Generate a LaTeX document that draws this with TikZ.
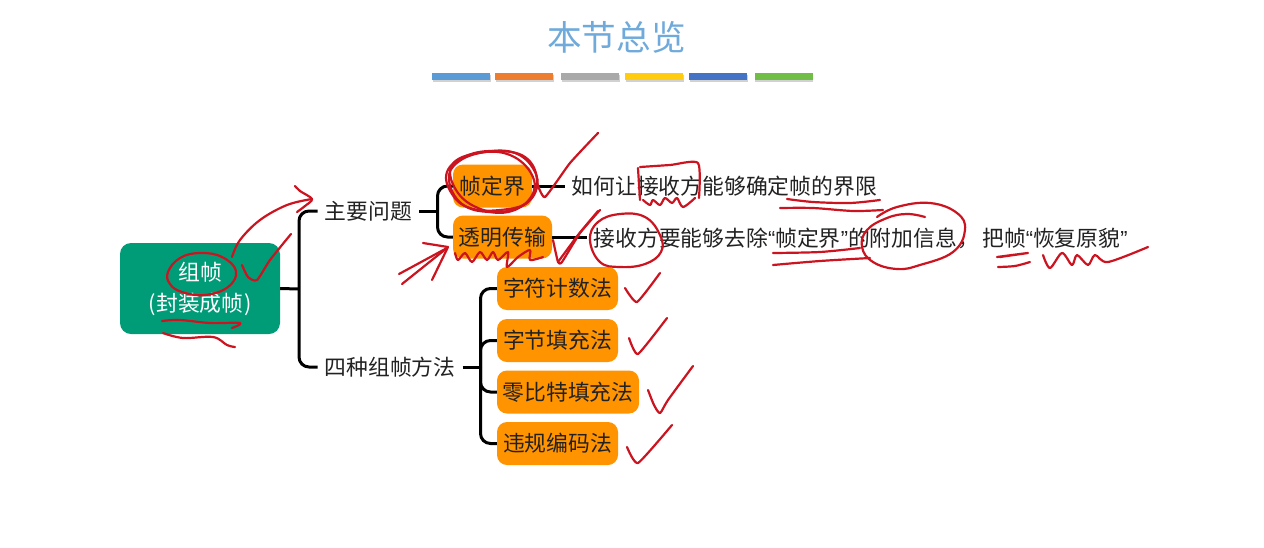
\documentclass[tikz,border=0pt]{standalone}
\usepackage{fontspec}
\setmainfont{Noto Sans CJK SC}
\newfontfamily\qf{Liberation Sans}
\newcommand{\oq}{{\qf “}}
\newcommand{\cq}{{\qf ”}}
\newcommand{\lowered}[2][1.5]{\raisebox{-#1pt}{#2}}
\definecolor{inkred}{HTML}{CC1420}
\definecolor{boxorange}{HTML}{FF9400}
\definecolor{rootgreen}{HTML}{009C78}
\definecolor{titleblue}{HTML}{6FAADB}
\definecolor{txt}{HTML}{222222}
\tikzset{
  bodyfont/.style={font=\fontsize{21.8}{31}\selectfont},
  rootbox/.style={fill=rootgreen,text=white,rounded corners=11,minimum width=160,minimum height=91,inner sep=0,align=center,bodyfont},
  leafbox/.style={fill=boxorange,text=txt,rounded corners=10,minimum height=43,inner sep=0,bodyfont},
  plain/.style={text=txt,inner xsep=7,inner ysep=0,anchor=west,bodyfont},
  conn/.style={draw=black,line width=3,rounded corners=10},
  ink/.style={draw=inkred,line width=2.2,line cap=round,line join=round},
  bar/.style={minimum width=58,minimum height=6.5,inner sep=0,anchor=north west},
}
\begin{document}
\begin{tikzpicture}[x=1pt,y=-1pt]
\useasboundingbox (0,0) rectangle (1264,547);
\fill[white] (0,0) rectangle (1264,547);
% title
\node[text=titleblue,font=\fontsize{34.6}{40}\selectfont,inner sep=0] (title) at (616.5,37) {本节总览};
\foreach \n/\xx/\cc in {a/432/5B9BD5,b/495/ED7D31,c/561/A9A9A9,d/625/FFCC10,e/689/4472C4,f/754.5/70BE47}{
  \fill[black!18] (\xx+.5,74.5) rectangle ++(58,7);
  \definecolor{barc}{HTML}{\cc}
  \node[bar,fill=barc] (bar\n) at (\xx,73) {};
}
% nodes
\node[rootbox] (root) at (200,288.5) {\lowered[2.5]{组帧}\\\lowered[2.5]{(\kern1pt封装成帧\kern1pt)}};
\node[plain] (q1) at (317.5,211) {\lowered{主要问题}};
\node[plain] (q2) at (317.5,367) {\lowered{四种组帧方法}};
\node[leafbox,minimum width=79] (p1) at (492.5,186) {帧定界};
\node[leafbox,minimum width=99] (p2) at (502.5,237) {\lowered{透明传输}};
\node[leafbox,minimum width=121] (m1) at (557.5,288.5) {\lowered{字符计数法}};
\node[leafbox,minimum width=121] (m2) at (557.5,340.5) {\lowered{字节填充法}};
\node[leafbox,minimum width=142] (m3) at (568,392) {\lowered{零比特填充法}};
\node[leafbox,minimum width=121] (m4) at (557.5,443.5) {\lowered{违规编码法}};
\node[plain] (d1) at (564.5,186) {如何让接收方能够确定帧的界限};
\node[plain] (d2) at (586.5,238) {接收方要能够去除\oq 帧定界\cq 的附加信息，\kern3.5pt 把帧\oq 恢复原貌\cq};
% connectors
\coordinate (bus1) at (299,289);
\coordinate (bus2) at (437.5,211);
\coordinate (bus3) at (480.5,367);
\draw[conn] (root.east) -- (bus1);
\draw[conn] (q1.west) -| (bus1) |- (q2.west);
\draw[conn] (q1.east) -- (bus2);
\draw[conn] (p1.west) -| (bus2) |- (p2.west);
\draw[conn] (q2.east) -- (bus3);
\draw[conn] (m1.west) -| (bus3) |- (m4.west);
\draw[conn] (bus3) |- (m2.west);
\draw[conn] (bus3) |- (m3.west);
\draw[conn] (p1.east) -- (p1.east -| d1.west);
\draw[conn] (p2.east) -- (p2.east -| d2.west);
% handwriting
\draw[ink] plot[smooth,tension=.6] coordinates {(232,257)(240,240)(260,220)(287,205)(312,199)};
\draw[ink] plot[smooth,tension=.5] coordinates {(295,186)(300,191)(312,199)(305,206)(297,212)};
\draw[ink] plot[smooth cycle,tension=.7] coordinates {(168,272)(180,258)(200,253)(222,257)(236,271)(228,287)(205,295)(182,292)(170,284)};
\draw[ink] plot[smooth,tension=.4] coordinates {(242,265)(248,277)(257,280)(270,260)(291,234)};
\draw[ink] plot[smooth,tension=.6] coordinates {(162,321)(180,320)(210,323)(240,323)(232,328)};
\draw[ink] plot[smooth,tension=.6] coordinates {(163,333)(183,338)(213,337)(227,345)(235,347)};
\draw[ink] (399,274) -- (447,248);
\draw[ink] (402,284) -- (447,248);
\draw[ink] (423,243) -- (448,247) -- (432,280);
\draw[ink] plot[smooth,tension=.5] coordinates {(455,253)(458,260)(465,253)(472,262)(480,252)(487,260)(493,252)(498,260)(508,252)(507,267)(518,257)(530,250)(530,260)(543,257)};
\draw[ink] plot[smooth cycle,tension=.7] coordinates {(449,180)(458,162)(485,152)(515,153)(534,170)(536,190)(520,207)(490,212)(462,204)};
\draw[ink] plot[smooth cycle,tension=.7] coordinates {(447,172)(466,156)(495,151)(525,157)(537,180)(528,202)(500,210)(470,208)(452,194)};
\draw[ink] plot[smooth cycle,tension=.7] coordinates {(452,165)(478,153)(510,155)(532,175)(531,197)(508,212)(478,208)(456,190)};
\draw[ink] plot[smooth,tension=.3] coordinates {(537,183)(545,197)(570,163)(598,133)};
\draw[ink] plot[smooth,tension=.3] coordinates {(553,240)(558,262)(562,262)(580,233)(600,210)};
\draw[ink] plot[smooth,tension=.3] coordinates {(558,262)(578,235)(598,211)};
\draw[ink] plot[smooth cycle,tension=.7] coordinates {(590,240)(598,222)(620,214)(645,217)(660,235)(661,252)(645,264)(620,267)(600,262)};
\draw[ink] (638,168) -- (640,200);
\draw[ink] plot[smooth,tension=.4] coordinates {(640,167)(670,165)(698,163)(699,198)};
\draw[ink] plot[smooth,tension=.5] coordinates {(643,200)(650,205)(653,200)(660,205)(665,198)(672,203)(677,198)(683,207)(695,198)};
\draw[ink] plot[smooth,tension=.5] coordinates {(787,199)(813,202)(850,203)(880,200)};
\draw[ink] plot[smooth,tension=.5] coordinates {(780,208)(813,208)(853,211)(883,210)};
\draw[ink] plot[smooth,tension=.7] coordinates {(877,217)(897,207)(930,203)(957,213)(965,230)(953,252)(920,265)(897,269)(873,262)(862,247)(867,230)(887,218)(907,214)(925,217)};
\draw[ink] plot[smooth,tension=.5] coordinates {(773,253)(820,252)(860,248)};
\draw[ink] plot[smooth,tension=.5] coordinates {(773,265)(820,261)(870,258)};
\draw[ink] plot[smooth,tension=.4] coordinates {(997,257)(1012,255)(1028,253)(1000,257)};
\draw[ink] plot[smooth,tension=.5] coordinates {(998,267)(1015,266)(1030,262)};
\draw[ink] plot[smooth,tension=.5] coordinates {(1043,255)(1050,268)(1062,253)(1072,265)(1077,255)(1088,265)(1095,255)(1108,262)(1148,247)};
\draw[ink] plot[smooth,tension=.3] coordinates {(625,288)(637,302)(660,273)};
\draw[ink] plot[smooth,tension=.3] coordinates {(629,338)(638,354)(667,318)};
\draw[ink] plot[smooth,tension=.4] coordinates {(648,390)(654,405)(660,413)(668,400)(693,366)};
\draw[ink] plot[smooth,tension=.3] coordinates {(627,447)(638,463)(672,425)};
\end{tikzpicture}
\end{document}
